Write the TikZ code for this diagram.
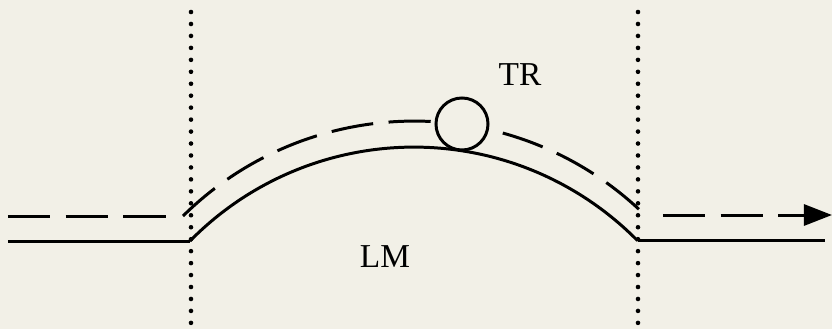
\documentclass[tikz,border=0pt]{standalone}
\usepackage{fontspec}
\setmainfont{Liberation Serif}
\usetikzlibrary{arrows.meta, positioning}
\definecolor{paper}{RGB}{242,240,231}

\begin{document}
\begin{tikzpicture}[
    x=0.01cm, y=0.01cm,
    font=\fontsize{9.5}{11}\selectfont,
    >={Triangle[length=8pt, width=6pt]},
    solidline/.style={line width=0.85pt},
    dashline/.style={line width=0.85pt, dash pattern=on 12pt off 4.4pt},
    dotline/.style={line width=1.3pt, line cap=round, dash pattern=on 0pt off 3.4pt},
    ring/.style={circle, draw, line width=0.85pt, fill=paper, minimum size=0.52cm, inner sep=0pt},
]
    % Paper
    \fill[paper] (0,0) rectangle (832,329);
    \useasboundingbox (0,0) rectangle (832,329);

    % Boundaries
    \coordinate (bltop) at (191,317);
    \coordinate (blbot) at (191,0);
    \coordinate (brtop) at (638,317);
    \coordinate (brbot) at (638,0);
    \draw[dotline] (bltop) -- (blbot);
    \draw[dotline] (brtop) -- (brbot);

    % Solid line
    \coordinate (sin) at (8,88);
    \coordinate (sarcL) at (190,88);
    \coordinate (sarcR) at (638,89);
    \coordinate (sout) at (825,89);
    \draw[solidline] (sin) -- (sarcL);
    \draw[solidline] (sarcL) arc[start angle=135.5, end angle=44.6, radius=314];
    \draw[solidline] (sarcR) -- (sout);

    % Dashed line
    \coordinate (din) at (8,113);
    \coordinate (dinend) at (172,113);
    \coordinate (darcL) at (183,113);
    \coordinate (dout) at (663,114);
    \coordinate (doutend) at (832,114);
    \draw[dashline] (din) -- (dinend);
    \draw[dashline] (darcL) arc[start angle=134.6, end angle=46.1, radius=329.7];
    \draw[dashline, ->] (dout) -- (doutend);

    % Transducer
    \node[ring] (tr) at (462,205) {};
    \node (trlabel) at (520,254) {TR};
    \node (lmlabel) at (385,72) {LM};
\end{tikzpicture}
\end{document}
